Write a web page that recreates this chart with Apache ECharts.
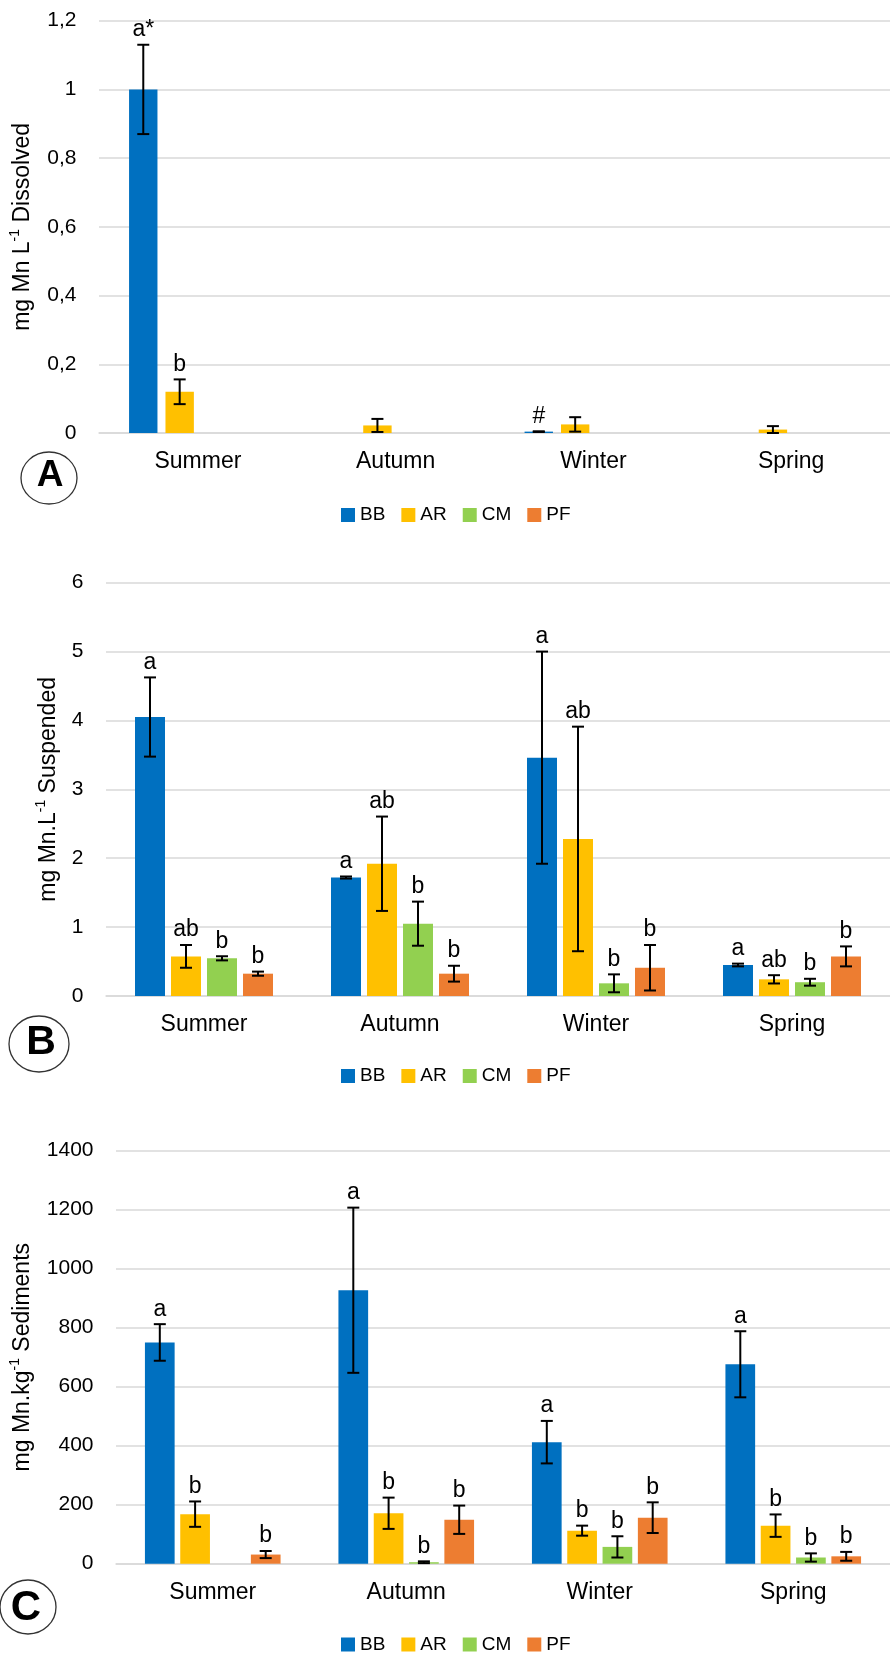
<!DOCTYPE html>
<html>
<head>
<meta charset="utf-8">
<script src="https://cdn.jsdelivr.net/npm/echarts@6/dist/echarts.min.js"></script>
<style>
  html, body { margin: 0; padding: 0; background: #fff; }
  #chart { width: 890px; height: 1653px; }
</style>
</head>
<body>
<div id="chart"></div>
<script>
// ---------- data ----------
const categories = ['Summer', 'Autumn', 'Winter', 'Spring'];
const sites = ['BB', 'AR', 'CM', 'PF'];
const colors = ['#0070C0', '#FFC000', '#92D050', '#ED7D31'];

// Panel A: dissolved Mn (mg L-1)
const dissBB = [1.00, null, 0.004, null];
const dissAR = [0.120, 0.022, 0.025, 0.010];
const dissCM = [null, null, null, null];
const dissPF = [null, null, null, null];
const dissBBErr = [0.130, null, 0.001, null];
const dissARErr = [0.036, 0.019, 0.021, 0.010];
const dissCMErr = [null, null, null, null];
const dissPFErr = [null, null, null, null];
const dissBBLetters = ['a*', '', '#', ''];
const dissARLetters = ['b', '', '', ''];
const dissCMLetters = ['', '', '', ''];
const dissPFLetters = ['', '', '', ''];
const ticksA = ['0', '0,2', '0,4', '0,6', '0,8', '1', '1,2'];

// Panel B: suspended Mn (mg L-1)
const suspBB = [4.05, 1.72, 3.46, 0.45];
const suspAR = [0.575, 1.92, 2.28, 0.242];
const suspCM = [0.547, 1.05, 0.184, 0.20];
const suspPF = [0.324, 0.324, 0.41, 0.575];
const suspBBErr = [0.575, 0.015, 1.54, 0.02];
const suspARErr = [0.165, 0.685, 1.63, 0.06];
const suspCMErr = [0.03, 0.32, 0.13, 0.05];
const suspPFErr = [0.03, 0.115, 0.33, 0.145];
const suspBBLetters = ['a', 'a', 'a', 'a'];
const suspARLetters = ['ab', 'ab', 'ab', 'ab'];
const suspCMLetters = ['b', 'b', 'b', 'b'];
const suspPFLetters = ['b', 'b', 'b', 'b'];
const ticksB = ['0', '1', '2', '3', '4', '5', '6'];

// Panel C: sediments Mn (mg kg-1)
const sedBB = [750, 927, 412, 676];
const sedAR = [168, 171, 112, 129];
const sedCM = [null, 5, 57, 21];
const sedPF = [31, 149, 156, 25];
const sedBBErr = [62, 280, 72, 112];
const sedARErr = [43, 53, 17, 38];
const sedCMErr = [null, 3, 36, 14];
const sedPFErr = [12, 48, 52, 15];
const sedBBLetters = ['a', 'a', 'a', 'a'];
const sedARLetters = ['b', 'b', 'b', 'b'];
const sedCMLetters = ['', 'b', 'b', 'b'];
const sedPFLetters = ['b', 'b', 'b', 'b'];
const ticksC = ['0', '200', '400', '600', '800', '1000', '1200', '1400'];

// ---------- layout ----------
const FONT = 'Liberation Sans, Arial, sans-serif';
const panels = [
  { vals: [dissBB, dissAR, dissCM, dissPF], errs: [dissBBErr, dissARErr, dissCMErr, dissPFErr],
    letters: [dissBBLetters, dissARLetters, dissCMLetters, dissPFLetters], ticks: ticksA,
    max: 1.2, interval: 0.2, name: '{t|mg Mn L}{sup|-1}{t| Dissolved}', nameGap: 65,
    grid: { left: 98, top: 20.7, width: 802.8, height: 412.3 }, bw: 28.4, gap: 8, legendTop: 505 },
  { vals: [suspBB, suspAR, suspCM, suspPF], errs: [suspBBErr, suspARErr, suspCMErr, suspPFErr],
    letters: [suspBBLetters, suspARLetters, suspCMLetters, suspPFLetters], ticks: ticksB,
    max: 6, interval: 1, name: '{t|mg Mn.L}{sup|-1}{t| Suspended}', nameGap: 46,
    grid: { left: 106, top: 582.7, width: 799, height: 413.3 }, bw: 30, gap: 6, legendTop: 1066 },
  { vals: [sedBB, sedAR, sedCM, sedPF], errs: [sedBBErr, sedARErr, sedCMErr, sedPFErr],
    letters: [sedBBLetters, sedARLetters, sedCMLetters, sedPFLetters], ticks: ticksC,
    max: 1400, interval: 200, name: '{t|mg Mn.kg}{sup|-1}{t| Sediments}', nameGap: 82,
    grid: { left: 114, top: 1150.7, width: 783.6, height: 413 }, bw: 29.7, gap: 5.6, legendTop: 1634.5 }
];

const grids = [], xAxes = [], yAxes = [], series = [], legends = [];

panels.forEach((p, pi) => {
  grids.push(Object.assign({ containLabel: false }, p.grid));
  xAxes.push({
    type: 'category', gridIndex: pi, data: categories,
    axisLine: { show: true, lineStyle: { color: '#d9d9d9', width: 1.5 } },
    axisTick: { show: false },
    axisLabel: { fontSize: 23, fontFamily: FONT, color: '#000', margin: 17.5 }
  });
  yAxes.push({
    type: 'value', gridIndex: pi, min: 0, max: p.max, interval: p.interval,
    axisLine: { show: false }, axisTick: { show: false },
    splitLine: { lineStyle: { color: '#d9d9d9', width: 1.5 } },
    axisLabel: {
      fontSize: 21, fontFamily: FONT, color: '#000', margin: 22.5,
      formatter: v => p.ticks[Math.round(v / p.interval)]
    },
    name: p.name, nameLocation: 'middle', nameGap: p.nameGap,
    nameTextStyle: {
      fontFamily: FONT, color: '#000',
      rich: {
        t: { fontSize: 23, fontFamily: FONT, color: '#000', lineHeight: 26, verticalAlign: 'bottom' },
        sup: { fontSize: 14, fontFamily: FONT, color: '#000', lineHeight: 14, verticalAlign: 'top' }
      }
    }
  });
  const gapPct = (p.gap / p.bw * 100).toFixed(1) + '%';
  sites.forEach((s, si) => {
    series.push({
      type: 'bar', name: s, xAxisIndex: pi, yAxisIndex: pi,
      data: p.vals[si], barWidth: p.bw, barGap: gapPct,
      itemStyle: { color: colors[si] }, silent: true
    });
  });
  const errData = [];
  sites.forEach((s, si) => {
    p.vals[si].forEach((v, ci) => {
      if (v !== null && v !== undefined) {
        const e = p.errs[si][ci];
        errData.push([ci, v, e === null ? 0 : e, si]);
      }
    });
  });
  series.push({
    type: 'custom', name: 'err' + pi, xAxisIndex: pi, yAxisIndex: pi, silent: true, z: 5,
    data: errData,
    renderItem: (params, api) => {
      const ci = api.value(0), v = api.value(1), e = api.value(2), si = api.value(3);
      const base = api.coord([ci, v]);
      const x = base[0] + (si - 1.5) * (p.bw + p.gap);
      const yTop = api.coord([ci, v + e])[1];
      const yBot = api.coord([ci, Math.max(0, v - e)])[1];
      const ls = { stroke: '#000', lineWidth: 2 };
      const children = [];
      if (e > 0) {
        children.push({ type: 'line', shape: { x1: x, y1: yTop, x2: x, y2: yBot }, style: ls });
        children.push({ type: 'line', shape: { x1: x - 6, y1: yTop, x2: x + 6, y2: yTop }, style: ls });
        children.push({ type: 'line', shape: { x1: x - 6, y1: yBot, x2: x + 6, y2: yBot }, style: ls });
      }
      const txt = p.letters[si][ci];
      if (txt) {
        children.push({
          type: 'text',
          style: { text: txt, x: x, y: yTop - 3.5, align: 'center', verticalAlign: 'bottom',
                   fontSize: 23, fontFamily: FONT, fill: '#000' }
        });
      }
      return { type: 'group', children: children };
    }
  });
  legends.push({
    data: sites, left: 341, top: p.legendTop, padding: 0, orient: 'horizontal',
    icon: 'rect', itemWidth: 14, itemHeight: 14, itemGap: 16, selectedMode: false,
    textStyle: { fontSize: 19, fontFamily: FONT, color: '#000', lineHeight: 20 }
  });
});

const circleText = (t, x, y, size) => ({
  type: 'text', x: x, y: y,
  style: { text: t, font: 'bold ' + size + 'px ' + FONT, align: 'center', verticalAlign: 'middle', fill: '#000' }
});

const chart = echarts.init(document.getElementById('chart'), null, { renderer: 'canvas' });
chart.setOption({
  animation: false,
  backgroundColor: '#fff',
  grid: grids, xAxis: xAxes, yAxis: yAxes, series: series, legend: legends,
  graphic: [
    { type: 'ellipse', shape: { cx: 49, cy: 478, rx: 28, ry: 26 }, style: { fill: '#fff', stroke: '#333', lineWidth: 1.3 } },
    circleText('A', 50, 476, 37),
    { type: 'ellipse', shape: { cx: 39, cy: 1044, rx: 30, ry: 28 }, style: { fill: '#fff', stroke: '#333', lineWidth: 1.3 } },
    circleText('B', 41, 1043, 41),
    { type: 'ellipse', shape: { cx: 28, cy: 1607, rx: 28, ry: 27 }, style: { fill: '#fff', stroke: '#333', lineWidth: 1.3 } },
    circleText('C', 26, 1608, 42)
  ]
});
</script>
</body>
</html>
